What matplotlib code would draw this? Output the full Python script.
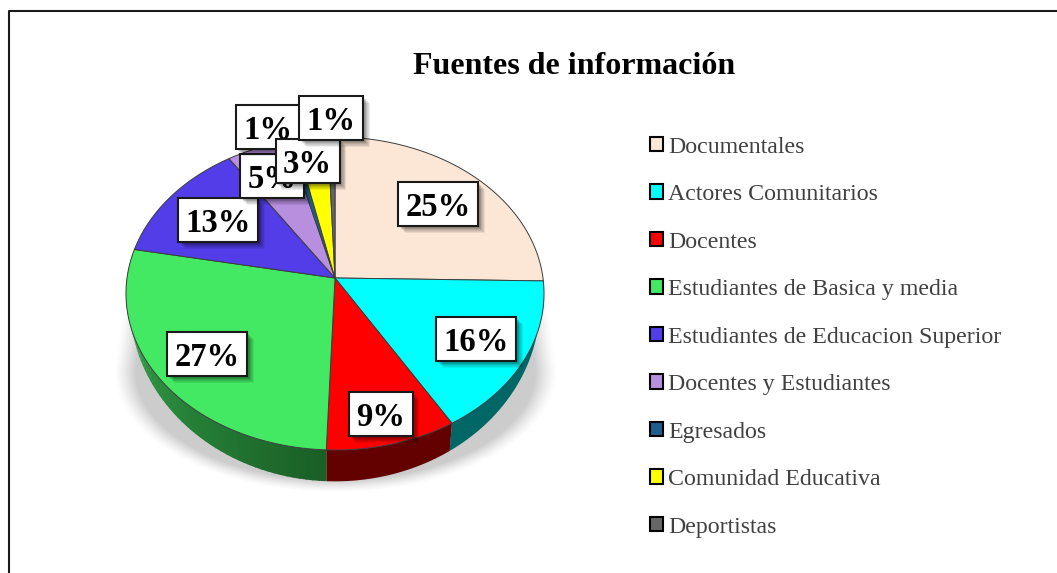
"""
Fuentes de informacion: tilted 3D style pie, drawn slice by slice
"""

import numpy as np
import matplotlib
matplotlib.use("Agg")
import matplotlib.pyplot as plt
from matplotlib.patches import Polygon, Rectangle, Patch

categories = ["Documentales", "Actores Comunitarios", "Docentes",
              "Estudiantes de Basica y media", "Estudiantes de Educacion Superior",
              "Docentes y Estudiantes", "Egresados", "Comunidad Educativa", "Deportistas"]
values = [25.3, 16.1, 9.2, 27.4, 12.7, 5.3, 0.6, 2.8, 0.6]
colors = ["#fce6d6", "#00ffff", "#ff0000", "#43e962", "#523de8",
          "#b88fdf", "#1f5f8f", "#ffff00", "#666666"]
side_colors = ["#b0a090", "#006666", "#630000", "#2c9a40", "#2f2380",
               "#6f5590", "#123a58", "#999900", "#3d3d3d"]
title = "Fuentes de información"

# where the labels sit, in pixels (moved by hand in the original)
label_xy = [(438, 204), (476, 339), (380.5, 414), (207, 354), (218, 220),
            (272, 176), (268, 127), (307.5, 161), (331, 118)]

plt.rcParams["font.family"] = ["Liberation Serif", "DejaVu Serif"]

W, H = 1057, 573
CX, CY = 335, 278  # pie centre on the top face
TILT = 0.099  # far rim looks smaller than near rim
TOP_K, TOP_A = 208, 155
BOT_Y, BOT_K, BOT_A = 286, 204, 176


def rim_xy(theta, y0, k, a):
    u, v = np.sin(theta), np.cos(theta)
    d = 1 + TILT * v
    return CX + k * u / d, y0 - a * v / d


def top_xy(theta):
    return rim_xy(theta, CY, TOP_K, TOP_A)


def bottom_xy(theta):
    return rim_xy(theta, BOT_Y, BOT_K, BOT_A)


def draw_shadow(ax):
    xx, yy = np.meshgrid(np.arange(100, 570), np.arange(270, 500))
    y0 = 370
    half = np.where(yy < y0, 209 + (yy - 280) / (y0 - 280) * 13, 222)
    ry = 122
    d = np.where(yy < y0, np.abs(xx - CX) / half,
                 np.sqrt(((xx - CX) / half) ** 2 + ((yy - y0) / ry) ** 2))
    a = np.clip((1 - d) / 0.10, 0, 1) ** 1.3 * 0.36
    a = a * np.clip((yy - 278) / 45, 0, 1)
    img = np.zeros(a.shape + (4,))
    img[..., :3] = 0.45
    img[..., 3] = a
    ax.imshow(img, extent=(100, 570, 500, 270), zorder=1, aspect="auto",
              interpolation="bilinear")


def wall(ax, t, color):
    tx, ty = top_xy(t)
    bx, by = bottom_xy(t)
    ax.add_patch(Polygon(np.c_[np.r_[tx, bx[::-1]], np.r_[ty, by[::-1]]],
                         fc=color, ec="none", zorder=2))


def draw_pie(ax):
    shares = np.array(values) / sum(values)
    edges = np.concatenate([[0], np.cumsum(shares)]) * 2 * np.pi
    for i in range(len(values)):
        a0, a1 = edges[i], edges[i + 1]
        # wall, only for what faces the viewer
        s0, s1 = max(a0, np.pi / 2), min(a1, 3 * np.pi / 2 + 0.2)
        if s1 > s0:
            if categories[i].startswith("Estudiantes de Basica"):
                # the green wall gets darker to the right
                cuts = np.linspace(s0, s1, 60)
                c_a = np.array(matplotlib.colors.to_rgb("#1a5f26"))
                c_b = np.array(matplotlib.colors.to_rgb("#2f9a45"))
                for k in range(len(cuts) - 1):
                    wall(ax, np.linspace(cuts[k], cuts[k + 1] + 0.005, 4),
                         c_a + (c_b - c_a) * min(1, k / 40))
            else:
                wall(ax, np.linspace(s0, s1, 60), side_colors[i])
        t = np.linspace(a0, a1, max(int((a1 - a0) * 60), 4))
        tx, ty = top_xy(t)
        pts = np.c_[np.r_[CX, tx], np.r_[CY, ty]]
        ax.add_patch(Polygon(pts, fc=colors[i], ec="#3c3c3c", lw=0.7, zorder=3,
                             joinstyle="round"))


def draw_label(ax, x, y, share, z):
    txt = f"{share:.0f}%"
    w = 48 + 16 * (len(txt) - 1)
    h = 44
    for k in range(1, 8):
        ax.add_patch(Rectangle((x - w / 2 + 1 + k * 0.8, y - h / 2 + 1 + k * 0.8), w, h,
                               fc="black", ec="none", alpha=0.07, zorder=z))
    ax.add_patch(Rectangle((x - w / 2, y - h / 2), w, h, fc="white", ec="#1a1a1a",
                           lw=1.5, zorder=z + 0.1))
    ax.text(x, y, txt, ha="center", va="center_baseline", fontsize=23.5,
            fontweight="bold", color="black", zorder=z + 0.2)


fig = plt.figure(figsize=(W / 100, H / 100), dpi=100)
ax = fig.add_axes([0, 0, 1, 1])
draw_shadow(ax)
ax.set_xlim(0, W)
ax.set_ylim(H, 0)
ax.set_axis_off()
draw_pie(ax)

total = sum(values)
for i, v in enumerate(values):
    draw_label(ax, label_xy[i][0], label_xy[i][1], v / total * 100, 10 + i)

ax.text(574.5, 66, title, ha="center", va="center", fontsize=23, fontweight="bold",
        color="black", zorder=30)

handles = [Patch(fc=c, ec="black", lw=1.5) for c in colors]
leg = ax.legend(handles, categories, loc="upper left", bbox_to_anchor=(650 / W, 1 - 136.5 / H),
                bbox_transform=fig.transFigure, frameon=False, fontsize=17.2,
                labelcolor="#404040", handlelength=0.55, handleheight=0.55,
                handletextpad=0.2, labelspacing=1.11, borderaxespad=0, borderpad=0)
leg.set_zorder(30)

# chart frame, the image is cropped on the other two sides
ax.plot([8.5, 8.5, W], [H, 10.5, 10.5], color="#1a1a1a", lw=1.5, zorder=40,
        clip_on=False)

fig.savefig("out.png", dpi=100)
